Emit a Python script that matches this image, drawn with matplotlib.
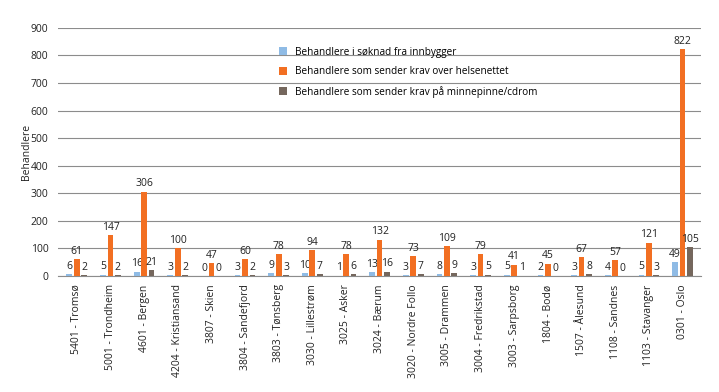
import numpy as np
import matplotlib.pyplot as plt

plt.rcParams['font.family'] = ['Open Sans', 'DejaVu Sans']

kommuner = ['5401 - Tromsø', '5001 - Trondheim', '4601 - Bergen', '4204 - Kristiansand',
            '3807 - Skien', '3804 - Sandefjord', '3803 - Tønsberg', '3030 - Lillestrøm',
            '3025 - Asker', '3024 - Bærum', '3020 - Nordre Follo', '3005 - Drammen',
            '3004 - Fredrikstad', '3003 - Sarpsborg', '1804 - Bodø', '1507 - Ålesund',
            '1108 - Sandnes', '1103 - Stavanger', '0301 - Oslo']
soknad = [6, 5, 16, 3, 0, 3, 9, 10, 1, 13, 3, 8, 3, 5, 2, 3, 4, 5, 49]
helsenett = [61, 147, 306, 100, 47, 60, 78, 94, 78, 132, 73, 109, 79, 41, 45, 67, 57, 121, 822]
minnepinne = [2, 2, 21, 2, 0, 2, 3, 7, 6, 16, 7, 9, 5, 1, 0, 8, 0, 3, 105]

series = [
    ('Behandlere i søknad fra innbygger', soknad, '#8fbbe5'),
    ('Behandlere som sender krav over helsenettet', helsenett, '#f26f22'),
    ('Behandlere som sender krav på minnepinne/cdrom', minnepinne, '#75675d'),
]

fig = plt.figure(figsize=(7.19, 3.92), dpi=100)
ax = fig.add_axes([0.081, 0.296, 0.894, 0.633])

x = np.arange(len(kommuner))
step = 0.22
w = 0.17
for i, (name, vals, col) in enumerate(series):
    pos = x + (i - 1) * step
    ax.bar(pos, vals, width=w, color=col, label=name, zorder=3)
    for p, v in zip(pos, vals):
        ax.text(p, v + 8, str(v), ha='center', va='bottom', fontsize=7.5, color='#222222')

ax.set_ylim(0, 900)
ax.set_xlim(-0.55, len(kommuner) - 0.45)
ax.set_yticks(np.arange(0, 901, 100))
ax.yaxis.grid(True, color='#8c8c8c', linewidth=0.8, zorder=0)
ax.set_axisbelow(True)
for s in ['top', 'right', 'left']:
    ax.spines[s].set_visible(False)
ax.spines['bottom'].set_color('#8c8c8c')
ax.tick_params(axis='y', length=0, labelsize=7.5, colors='#222222', pad=7)
ax.tick_params(axis='x', length=0, labelsize=7.5, colors='#222222', pad=6)
ax.set_xticks(x)
ax.set_xticklabels(kommuner, rotation=90)
ax.set_ylabel('Behandlere', fontsize=7.5, color='#222222', labelpad=-1)

ax.legend(loc='upper left', bbox_to_anchor=(0.33, 0.96), frameon=False, fontsize=7.2,
          handlelength=0.8, handleheight=0.8, labelspacing=0.85, handletextpad=0.8)

fig.savefig('out.png', dpi=100)
